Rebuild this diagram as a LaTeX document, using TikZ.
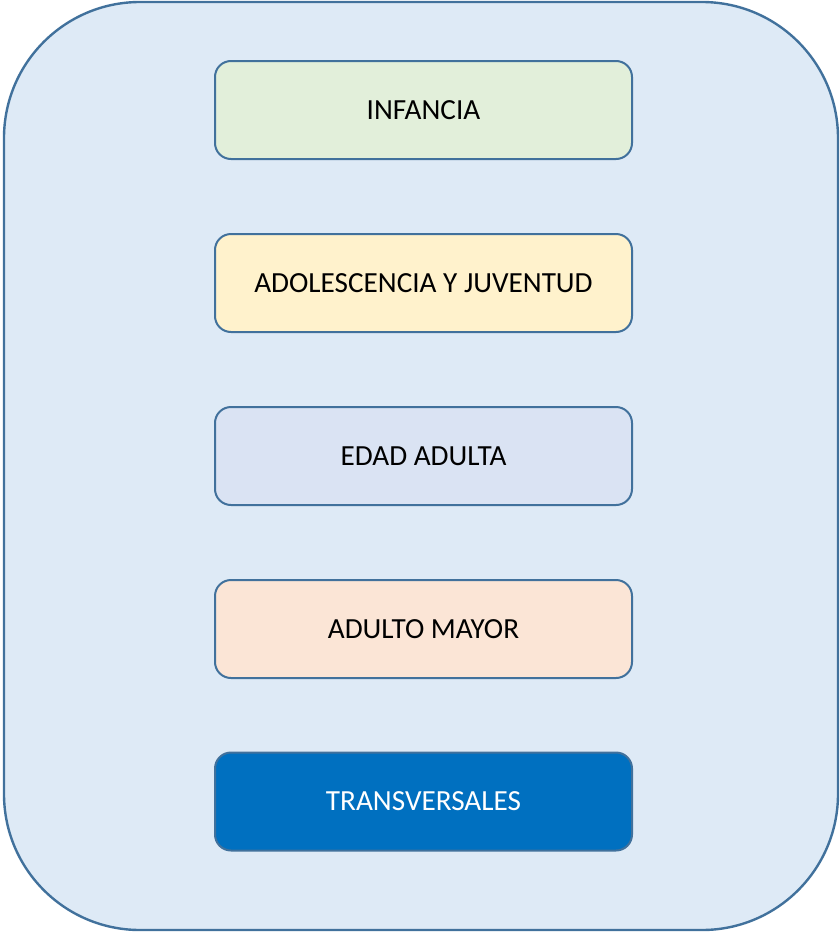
\documentclass[tikz,border=0pt]{standalone}
\usepackage{fontspec}
\setmainfont{Carlito}
\definecolor{outerfill}{HTML}{DEEAF6}
\definecolor{edge}{HTML}{41719C}
\definecolor{cInf}{HTML}{E2EFDA}
\definecolor{cAdo}{HTML}{FFF2CC}
\definecolor{cEda}{HTML}{DAE3F3}
\definecolor{cMay}{HTML}{FBE5D6}
\definecolor{cTra}{HTML}{0070C0}
\begin{document}
\begin{tikzpicture}[x=1pt,y=1pt,
  stage/.style={draw=edge,line width=2pt,rounded corners=16pt,minimum width=417pt,minimum height=98pt,inner sep=0pt,font=\fontsize{29.2}{34}\selectfont,text=black}]
\useasboundingbox (0,0) rectangle (840,-932);
\node[draw=edge,fill=outerfill,line width=2.4pt,rounded corners=136pt,minimum width=834pt,minimum height=928pt,inner sep=0pt] (frame) at (421,-466) {};
\node[stage,fill=cInf] (inf) at (423.5,-110) {INFANCIA};
\node[stage,fill=cAdo] (ado) at (423.5,-283) {ADOLESCENCIA Y JUVENTUD};
\node[stage,fill=cEda] (eda) at (423.5,-456) {EDAD ADULTA};
\node[stage,fill=cMay] (may) at (423.5,-629) {ADULTO MAYOR};
\node[stage,fill=cTra,text=white] (tra) at (423.5,-801.5) {TRANSVERSALES};
\end{tikzpicture}
\end{document}
